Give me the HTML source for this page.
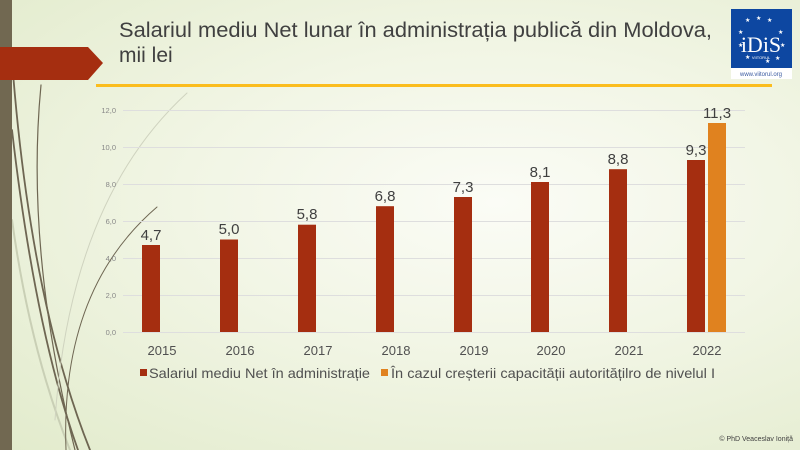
<!DOCTYPE html>
<html><head><meta charset="utf-8"><style>
html,body{margin:0;padding:0}
body{width:800px;height:450px;overflow:hidden;position:relative;font-family:"Liberation Sans","DejaVu Sans",sans-serif;
background:radial-gradient(ellipse at 62% 45%,#fbfcf6 0%,#f1f5e4 45%,#e2ebcc 100%);}
</style></head><body>
<svg width="800" height="450" style="position:absolute;left:0;top:0">
 <g fill="none" stroke-linecap="round">
  <path d="M12 60 Q30 300 90 450" stroke="#6e6652" stroke-width="1.8"/>
  <path d="M12 130 Q35 330 78 450" stroke="#6e6652" stroke-width="1.8"/>
  <path d="M41 85 Q25 250 75 450" stroke="#6e6652" stroke-width="1.2"/>
  <path d="M12 220 Q30 350 70 450" stroke="#c9cfb5" stroke-width="2"/>
  <path d="M157 207 Q60 290 66 450" stroke="#6e6652" stroke-width="1"/>
  <path d="M187 93 Q70 200 55 420" stroke="#cfd3bf" stroke-width="1"/>
 </g>
 <rect x="0" y="0" width="12" height="450" fill="#716851"/>
 <polygon points="0,47 88,47 103,63 88,80 0,80" fill="#a52e10"/>
 <rect x="96" y="84" width="676" height="3" fill="#fbbd1e"/>
 <rect x="731" y="9" width="61" height="59" fill="#0d47a1"/>
 <rect x="731" y="68" width="61" height="11" fill="#fff"/>
 <text x="761" y="52" text-anchor="middle" font-size="22" fill="#fff" font-family="Liberation Serif,serif">iDiS</text>
 <text x="761" y="59" text-anchor="middle" font-size="4" fill="#fff">VIITORUL</text>
 <text x="761" y="76" text-anchor="middle" font-size="6" fill="#3a5aa0">www.viitorul.org</text>
 <g fill="#fff" font-size="6">
  <text x="745" y="22">★</text><text x="756" y="20">★</text><text x="767" y="22">★</text>
  <text x="738" y="34">★</text><text x="778" y="34">★</text><text x="738" y="47">★</text><text x="780" y="47">★</text>
  <text x="745" y="59">★</text><text x="765" y="63">★</text><text x="775" y="60">★</text>
 </g>
 <g stroke="#dedede" stroke-width="1">
  <line x1="123" x2="745" y1="110.5" y2="110.5"/><line x1="123" x2="745" y1="147.5" y2="147.5"/>
  <line x1="123" x2="745" y1="184.5" y2="184.5"/><line x1="123" x2="745" y1="221.5" y2="221.5"/>
  <line x1="123" x2="745" y1="258.5" y2="258.5"/><line x1="123" x2="745" y1="295.5" y2="295.5"/>
  <line x1="123" x2="745" y1="332.5" y2="332.5"/>
 </g>
 <g font-size="7.5" fill="#888" text-anchor="end">
  <text x="116" y="113">12,0</text><text x="116" y="150">10,0</text><text x="116" y="187">8,0</text>
  <text x="116" y="224">6,0</text><text x="116" y="261">4,0</text><text x="116" y="298">2,0</text><text x="116" y="335">0,0</text>
 </g>
 <g fill="#a52e10">
  <rect x="142" y="245" width="18" height="87"/>
  <rect x="220" y="239.5" width="18" height="92.5"/>
  <rect x="298" y="224.7" width="18" height="107.3"/>
  <rect x="376" y="206.2" width="18" height="125.8"/>
  <rect x="454" y="197" width="18" height="135"/>
  <rect x="531" y="182" width="18" height="150"/>
  <rect x="609" y="169.2" width="18" height="162.8"/>
  <rect x="687" y="160" width="18" height="172"/>
 </g>
 <rect x="708" y="123" width="18" height="209" fill="#e0821f"/>
 <g font-size="15" fill="#404040" text-anchor="middle">
  <text x="151" y="240">4,7</text><text x="229" y="234">5,0</text><text x="307" y="219">5,8</text>
  <text x="385" y="201">6,8</text><text x="463" y="192">7,3</text><text x="540" y="177">8,1</text>
  <text x="618" y="164">8,8</text><text x="696" y="155">9,3</text><text x="717" y="118">11,3</text>
 </g>
 <g font-size="13" fill="#505050" text-anchor="middle">
  <text x="162" y="355">2015</text><text x="240" y="355">2016</text><text x="318" y="355">2017</text>
  <text x="396" y="355">2018</text><text x="474" y="355">2019</text><text x="551" y="355">2020</text>
  <text x="629" y="355">2021</text><text x="707" y="355">2022</text>
 </g>
 <rect x="140" y="369" width="7" height="7" fill="#a52e10"/>
 <text x="149" y="378" font-size="14" fill="#505050" textLength="221" lengthAdjust="spacingAndGlyphs">Salariul mediu Net în administrație</text>
 <rect x="381" y="369" width="7" height="7" fill="#e0821f"/>
 <text x="391" y="378" font-size="14" fill="#505050" textLength="324" lengthAdjust="spacingAndGlyphs">În cazul creșterii capacității autoritățilro de nivelul I</text>
 <text x="793" y="441" font-size="7" fill="#404040" text-anchor="end">© PhD Veaceslav Ioniță</text>
 <text x="119" y="37" font-size="21" fill="#404040" textLength="593" lengthAdjust="spacingAndGlyphs">Salariul mediu Net lunar în administrația publică din Moldova,</text>
 <text x="119" y="62" font-size="21" fill="#404040">mii lei</text>
</svg>
</body></html>
